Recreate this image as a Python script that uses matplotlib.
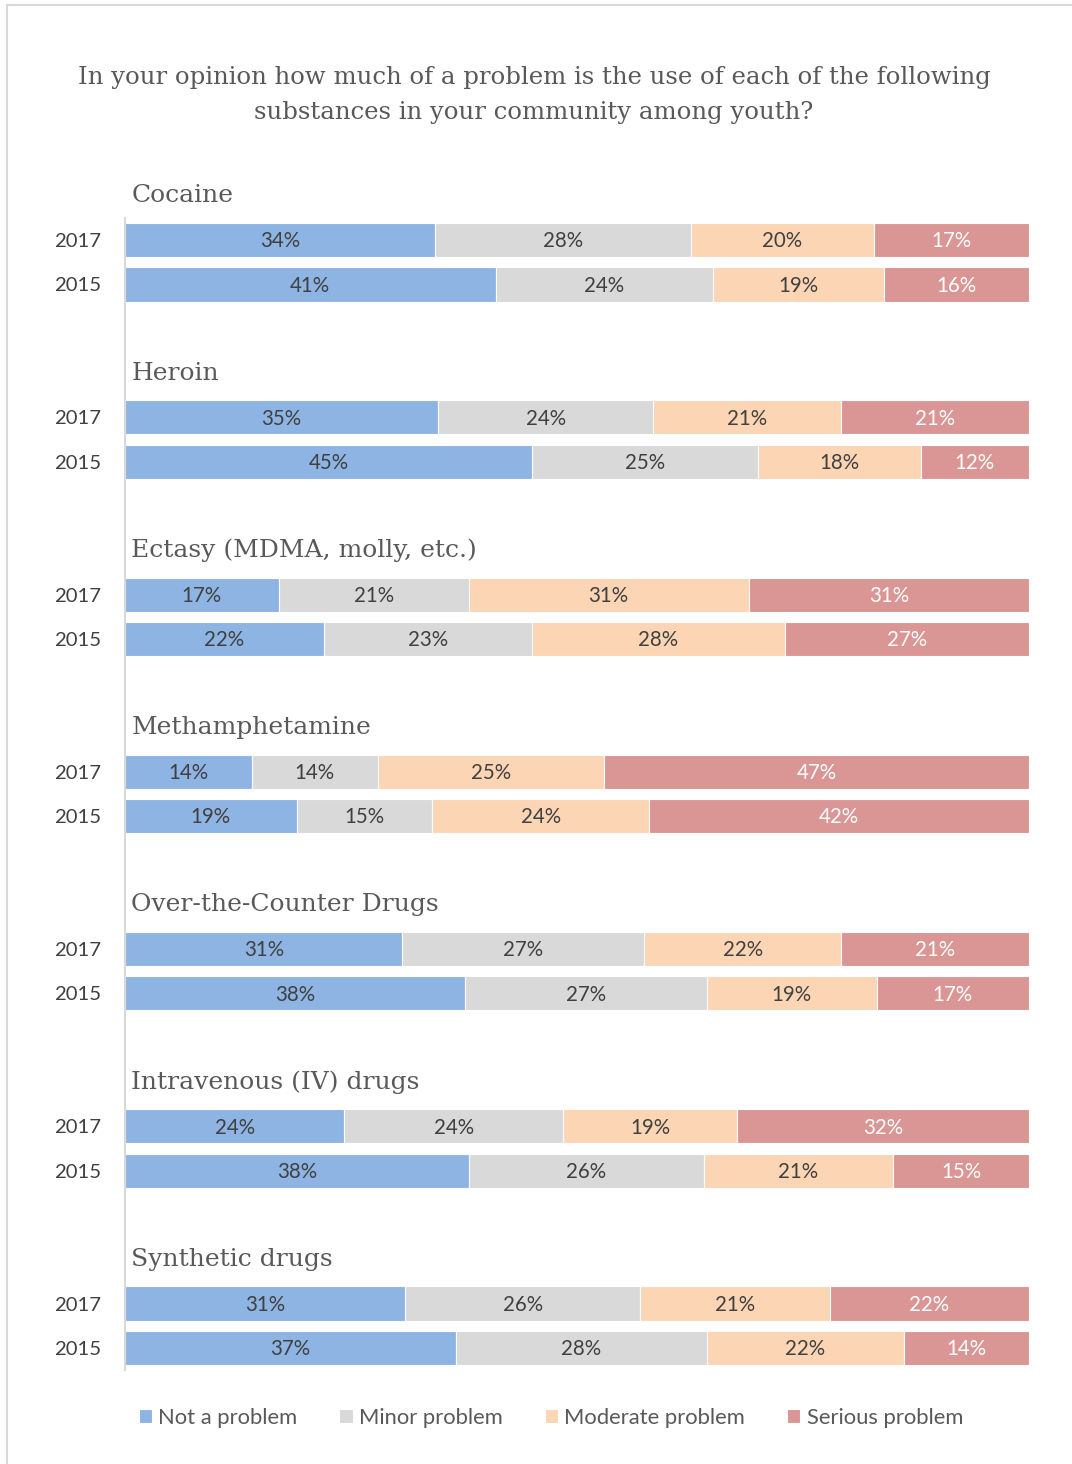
import numpy as np
import matplotlib.pyplot as plt
from matplotlib.patches import Rectangle

substances = ["Cocaine", "Heroin", "Ectasy (MDMA, molly, etc.)", "Methamphetamine",
              "Over-the-Counter Drugs", "Intravenous (IV) drugs", "Synthetic drugs"]
years = ["2017", "2015"]
levels = ["Not a problem", "Minor problem", "Moderate problem", "Serious problem"]

# percentages per substance: [2017 row, 2015 row], columns follow `levels`
values = {
    "Cocaine": [[34, 28, 20, 17], [41, 24, 19, 16]],
    "Heroin": [[35, 24, 21, 21], [45, 25, 18, 12]],
    "Ectasy (MDMA, molly, etc.)": [[17, 21, 31, 31], [22, 23, 28, 27]],
    "Methamphetamine": [[14, 14, 25, 47], [19, 15, 24, 42]],
    "Over-the-Counter Drugs": [[31, 27, 22, 21], [38, 27, 19, 17]],
    "Intravenous (IV) drugs": [[24, 24, 19, 32], [38, 26, 21, 15]],
    "Synthetic drugs": [[31, 26, 21, 22], [37, 28, 22, 14]],
}

colors = ["#8EB4E3", "#D9D9D9", "#FCD5B5", "#D99694"]
text_colors = ["#404040", "#404040", "#404040", "white"]

sans = ["Lato", "DejaVu Sans"]
serif = ["DejaVu Serif"]

fig = plt.figure(figsize=(10.72, 14.64), dpi=100)
ax = fig.add_axes([125 / 1072, 94 / 1464, 904 / 1072, 1152 / 1464])

yticks, ylabels = [], []
for i, name in enumerate(substances):
    for j, yr in enumerate(years):
        y = i * 4 + j
        row = np.array(values[name][j], dtype=float)
        shares = row / row.sum() * 100
        left = 0
        for k, (v, s) in enumerate(zip(row, shares)):
            ax.barh(y, s, left=left, height=0.77, color=colors[k],
                    edgecolor="white", linewidth=0.8,
                    label=levels[k] if (i == 0 and j == 0) else None)
            ax.text(left + s / 2, y + 0.03, "%d%%" % v, ha="center", va="center",
                    color=text_colors[k], fontsize=14.8, family=sans)
            left += s
        yticks.append(y)
        ylabels.append(yr)
    ax.text(0.007, i * 4 - 1.0, name, transform=ax.get_yaxis_transform(),
            ha="left", va="center", fontsize=18, color="#595959",
            family=serif, clip_on=False)

ax.set_xlim(0, 100)
ax.set_ylim(25.5, -0.5)
ax.set_yticks(yticks)
ax.set_yticklabels(ylabels, family=sans, fontsize=14.6, color="#404040")
ax.tick_params(axis="y", length=0, pad=17)
ax.set_xticks([])
for side in ["top", "right", "bottom"]:
    ax.spines[side].set_visible(False)
ax.spines["left"].set_color("#D9D9D9")
ax.spines["left"].set_linewidth(1.5)

fig.text(534 / 1072, 1 - 95 / 1464,
         "In your opinion how much of a problem is the use of each of the following\n"
         "substances in your community among youth?",
         ha="center", va="center", fontsize=17.6, color="#595959",
         family=serif, linespacing=1.65)

fig.legend(loc="center", bbox_to_anchor=(551 / 1072, 1 - 1418 / 1464), ncol=4,
           frameon=False, handlelength=0.6, handleheight=0.6, handletextpad=0.3,
           columnspacing=1.9, prop={"family": sans, "size": 15.8},
           labelcolor="#595959")

fig.patches.append(Rectangle((7 / 1072, -0.05), 1.1, 1 - 5 / 1464 + 0.05,
                             transform=fig.transFigure, fill=False,
                             edgecolor="#D9D9D9", linewidth=1.5))

fig.savefig("out.png", dpi=100)
